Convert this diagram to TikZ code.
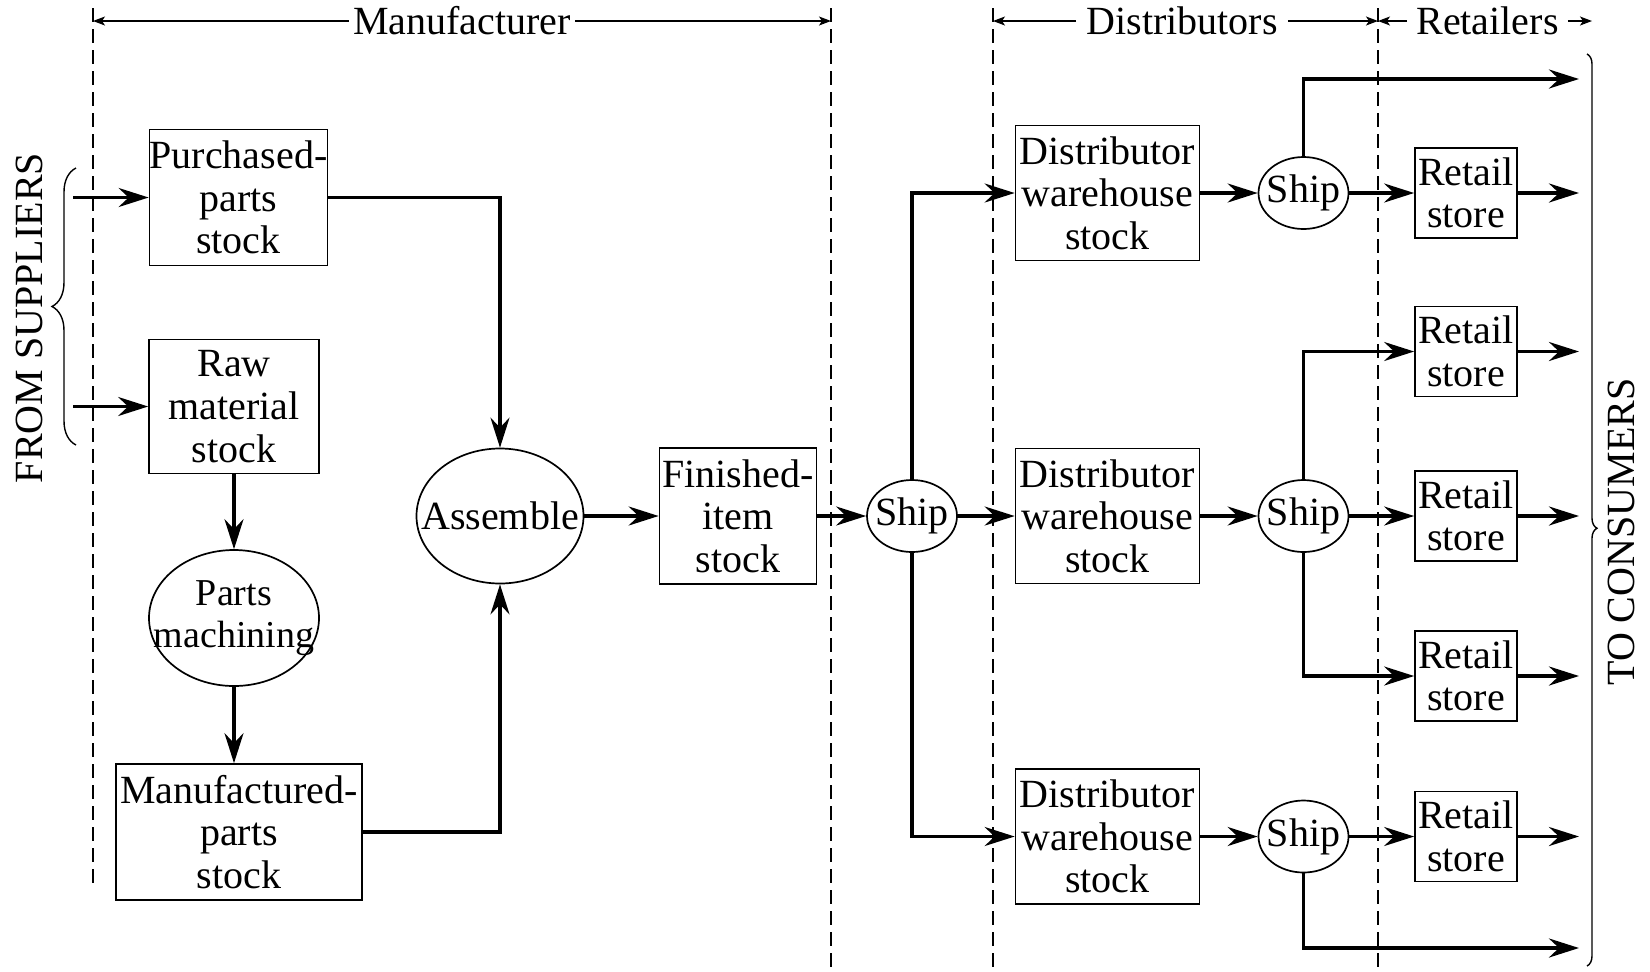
\documentclass[tikz,border=0pt]{standalone}
\usepackage{fontspec}
\setmainfont{Liberation Serif}
\usetikzlibrary{positioning,arrows.meta,decorations.pathreplacing,shapes.geometric}

\tikzset{
	stock/.style={draw, line width=0.85pt, rectangle, align=center, inner sep=0pt,
		font=\fontsize{20pt}{21.3pt}\selectfont},
	proc/.style={draw, line width=0.85pt, ellipse, align=center, inner sep=-40pt,
		font=\fontsize{20pt}{21.3pt}\selectfont},
	dws/.style={stock, minimum width=92pt, minimum height=67.5pt},
	rstore/.style={stock, minimum width=51pt, minimum height=45pt},
	shipper/.style={proc, minimum width=45pt, minimum height=36pt},
	flowarrow/.style={->, line width=1.8pt},
	zoneline/.style={line width=0.65pt, dash pattern=on 7pt off 3.5pt},
	zonelabel/.style={inner sep=2pt, font=\fontsize{20pt}{21.3pt}\selectfont},
	spanarrow/.style={-{Stealth[length=6pt,width=4.5pt,inset=1.5pt]}, line width=0.6pt},
	curly/.style={decorate, line width=0.7pt},
	sidelabel/.style={rotate=90, font=\fontsize{20pt}{21.3pt}\selectfont}
}

\begin{document}
\begin{tikzpicture}[x=0.5pt, y=-0.5pt, >={Stealth[length=15pt,width=9.5pt,inset=5pt]}]
	\useasboundingbox (0,0) rectangle (1650,971);

	\coordinate (d1t) at (93,8);
	\coordinate (d1b) at (93,890);
	\coordinate (d2t) at (831,8);
	\coordinate (d2b) at (831,971);
	\coordinate (d3t) at (993,8);
	\coordinate (d3b) at (993,971);
	\coordinate (d4t) at (1378,8);
	\coordinate (d4b) at (1378,971);
	\coordinate (rend) at (1592,21);
	\draw[zoneline] (d1t) -- (d1b);
	\draw[zoneline] (d2t) -- (d2b);
	\draw[zoneline] (d3t) -- (d3b);
	\draw[zoneline] (d4t) -- (d4b);

	\node[zonelabel] (mfr) at (462,21) {Manufacturer};
	\node[zonelabel, inner xsep=5pt] (dis) at (1182,21) {Distributors};
	\node[zonelabel, inner xsep=4.5pt] (ret) at (1487.5,21) {Retailers};
	\draw[spanarrow] (mfr.west) -- (mfr.west -| d1t);
	\draw[spanarrow] (mfr.east) -- (mfr.east -| d2t);
	\draw[spanarrow] (dis.west) -- (dis.west -| d3t);
	\draw[spanarrow] (dis.east) -- (dis.east -| d4t);
	\draw[spanarrow] (ret.west) -- (ret.west -| d4t);
	\draw[spanarrow] (ret.east) -- (rend);

	\node[stock, minimum width=89pt, minimum height=68pt] 
		  (pps) at (238.5,197.5) {Purchased-\\parts\\stock};
	\node[stock, minimum width=85pt, minimum height=67pt] 
		  (rms) at (234,406.5) {Raw\\material\\stock};
	\node[proc, minimum width=85pt, minimum height=68pt,
		  font=\fontsize{19pt}{21.3pt}\selectfont] 
		  (pm) at (234,618) {Parts\\machining};
	\node[stock, minimum width=123pt, minimum height=68pt] 
		  (mps) at (239,832) {Manufactured-\\parts\\stock};
	\node[proc, minimum width=83.5pt, minimum height=67.5pt] 
		  (asm) at (500,516) {Assemble};
	\node[stock, minimum width=78.5pt, minimum height=68pt] 
		  (fis) at (738,516) {Finished-\\item\\stock};
	\node[shipper] (sh0) at (912,516) {Ship};

	\node[dws] (dw1) at (1107.5,193) {Distributor\\warehouse\\stock};
	\node[dws] (dw2) at (1107.5,516) {Distributor\\warehouse\\stock};
	\node[dws] (dw3) at (1107.5,836.5) {Distributor\\warehouse\\stock};
	\node[shipper] (sh1) at (1303.5,193) {Ship};
	\node[shipper] (sh2) at (1303.5,516) {Ship};
	\node[shipper] (sh3) at (1303.5,836.5) {Ship};
	\node[rstore] (rs1) at (1466,193) {Retail\\store};
	\node[rstore] (rs2) at (1466,351.5) {Retail\\store};
	\node[rstore] (rs3) at (1466,516) {Retail\\store};
	\node[rstore] (rs4) at (1466,676) {Retail\\store};
	\node[rstore] (rs5) at (1466,836.5) {Retail\\store};

	\coordinate (in1) at (73,197.5);
	\coordinate (in2) at (73,406.5);
	\coordinate (out1) at (1579,79);
	\coordinate (out2) at (1579,193);
	\coordinate (out3) at (1579,351.5);
	\coordinate (out4) at (1579,516);
	\coordinate (out5) at (1579,676);
	\coordinate (out6) at (1579,836.5);
	\coordinate (out7) at (1579,948);

	\draw[flowarrow] (in1) -- (pps.west);
	\draw[flowarrow] (in2) -- (rms.west);
	\draw[flowarrow] (pps.east) -| (asm.north);
	\draw[flowarrow] (rms.south) -- (pm.north);
	\draw[flowarrow] (pm.south) -- (pm.south |- mps.north);
	\draw[flowarrow] (mps.east) -| (asm.south);
	\draw[flowarrow] (asm.east) -- (fis.west);
	\draw[flowarrow] (fis.east) -- (sh0.west);
	\draw[flowarrow] (sh0.north) |- (dw1.west);
	\draw[flowarrow] (sh0.east) -- (dw2.west);
	\draw[flowarrow] (sh0.south) |- (dw3.west);
	\draw[flowarrow] (dw1.east) -- (sh1.west);
	\draw[flowarrow] (dw2.east) -- (sh2.west);
	\draw[flowarrow] (dw3.east) -- (sh3.west);
	\draw[flowarrow] (sh1.north) |- (out1);
	\draw[flowarrow] (sh1.east) -- (rs1.west);
	\draw[flowarrow] (sh2.north) |- (rs2.west);
	\draw[flowarrow] (sh2.east) -- (rs3.west);
	\draw[flowarrow] (sh2.south) |- (rs4.west);
	\draw[flowarrow] (sh3.east) -- (rs5.west);
	\draw[flowarrow] (sh3.south) |- (out7);
	\draw[flowarrow] (rs1.east) -- (out2);
	\draw[flowarrow] (rs2.east) -- (out3);
	\draw[flowarrow] (rs3.east) -- (out4);
	\draw[flowarrow] (rs4.east) -- (out5);
	\draw[flowarrow] (rs5.east) -- (out6);

	\coordinate (sb) at (76,445);
	\coordinate (st) at (76,168);
	\draw[curly, decoration={brace, amplitude=12pt}] (sb) -- (st);
	\node[sidelabel] (sup) at (29,318) {FROM SUPPLIERS};
	\coordinate (ct) at (1587,54);
	\coordinate (cb) at (1587,966);
	\draw[curly, decoration={brace, amplitude=5pt, aspect=0.52}] (ct) -- (cb);
	\node[sidelabel] (con) at (1621,532) {TO CONSUMERS};
\end{tikzpicture}
\end{document}
